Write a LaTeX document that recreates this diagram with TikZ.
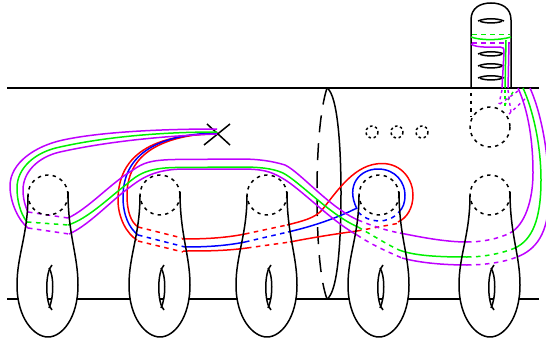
\documentclass[tikz,border=0pt]{standalone}
\definecolor{pur}{RGB}{190,0,255}
\definecolor{grn}{RGB}{0,240,0}
\definecolor{blu}{RGB}{0,0,255}
\definecolor{rd}{RGB}{255,0,0}
\tikzset{
  ink/.style={line width=1.5pt,line join=round},
  dots/.style={ink,dash pattern=on 3.4pt off 4.2pt},
  sdots/.style={ink,dash pattern=on 2.6pt off 2.6pt},
  cdots/.style={line width=1.5pt,dash pattern=on 4.5pt off 4.5pt},
  fdots/.style={line width=1.4pt,dash pattern=on 3pt off 3.5pt},
  handlefill/.pic={
    \fill[white] (-20,195) .. controls (-20,235) and (-31,255) .. (-31,285) .. controls (-31,318) and (-14,337) .. (0,337) .. controls (14,337) and (30,318) .. (30,285) .. controls (30,255) and (20,235) .. (20,195) -- cycle;
    \draw[ink] (-1.5,299) -- (3.5,299);
  },
  handle/.pic={
    \draw[ink] (-20,195) .. controls (-20,235) and (-31,255) .. (-31,285) .. controls (-31,318) and (-14,337) .. (0,337) .. controls (14,337) and (30,318) .. (30,285) .. controls (30,255) and (20,235) .. (20,192);
    \draw[ink] (4,265) .. controls (-3,272) and (-3,303) .. (4,310);
    \draw[ink] (1,268) .. controls (6,275) and (6,298) .. (1,308);
    \draw[dots] (0,195) circle (20);
  },
  lens/.pic={
    \draw[ink] (-13,0) .. controls (-6,-3) and (6,-3) .. (13,0);
    \draw[ink] (-11,0.3) .. controls (-5,2.5) and (5,2.5) .. (11,0.3);
  }
}
\begin{document}
\begin{tikzpicture}[x=1pt,y=-1pt]
\useasboundingbox (0,0) rectangle (546,342);
\clip (0,0) rectangle (546,342);
% frame lines
\draw[ink] (7,88) -- (539,88);
\draw[ink] (7,299) -- (539,299);
\draw[ink] (327,88) .. controls (338,95) and (341,150) .. (341,193) .. controls (341,240) and (338,292) .. (327,299);
\draw[ink,dash pattern=on 17pt off 11pt] (327,88) .. controls (320,110) and (317,150) .. (317,193) .. controls (317,240) and (320,280) .. (327,299);
% handle bodies
\foreach \cx in {48,160,267,379,490} \pic at (\cx,0) {handlefill};
% tube
\draw[ink] (471,88) -- (471,20) .. controls (471,8) and (480,3) .. (491,3) .. controls (502,3) and (511,8) .. (511,20) -- (511,88);
\foreach \y in {21,54,66,78} \pic at (491,\y) {lens};
\draw[dots] (471,93) -- (471,117);
\draw[dots] (490,127) circle (20);
\foreach \x in {372,397,422} \draw[sdots] (\x,132) circle (6);
% cross
\draw[ink] (204,145) -- (230,124);
\draw[ink] (207,124) -- (230,145);
% red (outer)
\draw[ink,rd] (217,134) .. controls (170,134) and (118,145) .. (118,200) .. controls (118,218) and (127,234) .. (137,240);
\draw[cdots,rd] (138,241) -- (183,252);
\draw[ink,rd] (183,251) .. controls (205,251) and (225,251) .. (247,248);
\draw[cdots,rd] (247,248) -- (290,242);
\draw[ink,rd] (290,242) .. controls (310,238) and (335,234) .. (357,231);
\draw[cdots,rd] (357,231) -- (400,223);
% red (inner)
\draw[ink,rd] (217,133) .. controls (172,135) and (127,148) .. (127,195) .. controls (127,212) and (131,222) .. (138,227);
\draw[cdots,rd] (138,227) -- (182,238);
\draw[ink,rd] (182,239) .. controls (205,239) and (225,238) .. (245,234);
\draw[cdots,rd] (245,234) -- (287,225);
\draw[ink,rd] (287,225) .. controls (303,221) and (315,218) .. (322,210) .. controls (338,190) and (355,163.5) .. (382,163.5) .. controls (402,163.5) and (413,180) .. (413,195) .. controls (413,208) and (407,218) .. (398,222);
% blue
\draw[ink,blu] (217,133) .. controls (170,134) and (123,147) .. (123,197) .. controls (123,215) and (129,228) .. (138,235);
\draw[cdots,blu] (138,235) -- (185,247);
\draw[ink,blu] (185,247) .. controls (205,247) and (225,246) .. (245,242);
\draw[cdots,blu] (245,242) -- (288,232);
\draw[ink,blu] (288,232) .. controls (310,227) and (335,219) .. (357,208);
\draw[ink,blu] (357,209) .. controls (345,185) and (360,169) .. (378,169) .. controls (396,169) and (405,183) .. (405,195) .. controls (405,203) and (403,208) .. (399,212);
\draw[cdots,blu] (358,212) .. controls (368,223) and (388,225) .. (399,212);
% purple, outer on the left
\draw[ink,pur] (217,129) .. controls (160,129) and (100,132) .. (63,140) .. controls (35,146) and (10,163) .. (10,186) .. controls (10,203) and (19,221) .. (28,228);
\draw[cdots,pur] (28,228) -- (69,234);
\draw[ink,pur] (69,234) .. controls (88,226) and (112,200) .. (130,187) .. controls (142,178) and (155,169) .. (185,169) -- (240,169) .. controls (262,169) and (270,171) .. (282,178) .. controls (300,188) and (330,220) .. (357,235);
\draw[cdots,pur] (357,235) .. controls (372,245) and (388,252) .. (402,258);
\draw[ink,pur] (402,258) .. controls (420,263) and (445,265) .. (467,265);
\draw[cdots,pur] (467,265) .. controls (485,265) and (505,262) .. (517,257);
\draw[ink,pur] (517,257) .. controls (535,250) and (549,235) .. (549,195) .. controls (549,150) and (540,110) .. (530,88);
% green
\draw[ink,grn] (217,132) .. controls (160,132) and (105,137) .. (60,147) .. controls (35,152) and (17,168) .. (17,188) .. controls (17,200) and (20,213) .. (27,222);
\draw[cdots,grn] (27,222) -- (68,225);
\draw[ink,grn] (68,225) .. controls (88,219) and (112,195) .. (127,184) .. controls (138,174) and (148,168) .. (175,167.5) -- (240,167) .. controls (258,167) and (272,168) .. (283,173) .. controls (300,182) and (330,215) .. (358,227);
\draw[cdots,grn] (358,227) .. controls (372,235) and (388,245) .. (399,250);
\draw[ink,grn] (399,250) .. controls (415,256) and (440,257) .. (467,257);
\draw[cdots,grn] (467,257) .. controls (485,257) and (503,253) .. (515,248);
\draw[ink,grn] (515,248) .. controls (532,240) and (541,220) .. (541,180) .. controls (541,145) and (533,110) .. (523,88);
% purple, inner on the left
\draw[ink,pur] (217,134) .. controls (160,136) and (105,142) .. (60,152) .. controls (38,157) and (23,172) .. (23,190) .. controls (23,198) and (25,206) .. (28,212);
\draw[cdots,pur] (28,212) -- (68,218);
\draw[ink,pur] (68,218) .. controls (88,209) and (112,182) .. (133,170) .. controls (143,163) and (150,160) .. (175,159.5) -- (240,159) .. controls (258,159) and (272,161) .. (285,165) .. controls (300,172) and (330,208) .. (358,220);
\draw[cdots,pur] (358,220) .. controls (372,226) and (388,231) .. (400,233);
\draw[ink,pur] (400,233) .. controls (420,237) and (445,242) .. (467,242);
\draw[cdots,pur] (467,242) .. controls (482,242) and (498,239) .. (510,233);
\draw[ink,pur] (510,233) .. controls (525,225) and (533,200) .. (533,173) .. controls (533,140) and (528,110) .. (518,88);
% strands in the tube
\draw[ink,grn] (471,37) .. controls (480,40.5) and (500,40.5) .. (511,37);
\draw[ink,pur] (471,44) .. controls (476,48) and (490,47) .. (500,47) .. controls (503,47) and (504,48) .. (504,52) -- (502,88);
\draw[ink,grn] (506,40) -- (505,88);
\draw[ink,pur] (509,43) -- (508,88);
\draw[cdots,grn] (472,34.5) -- (510,34.5);
\draw[cdots,pur] (472,43) -- (510,43);
% strands behind the tube foot
\draw[fdots,pur] (518,91) -- (497,106);
\draw[fdots,grn] (513,92) -- (503,108);
\draw[fdots,pur] (525,99) -- (509,114);
\draw[fdots,pur] (502,90) -- (499,104);
\draw[fdots,grn] (505,90) -- (505,107);
\draw[fdots,pur] (508,90) -- (511,113);
% handles over the strands
\foreach \cx in {48,160,267,379,490} \pic at (\cx,0) {handle};
\end{tikzpicture}
\end{document}
